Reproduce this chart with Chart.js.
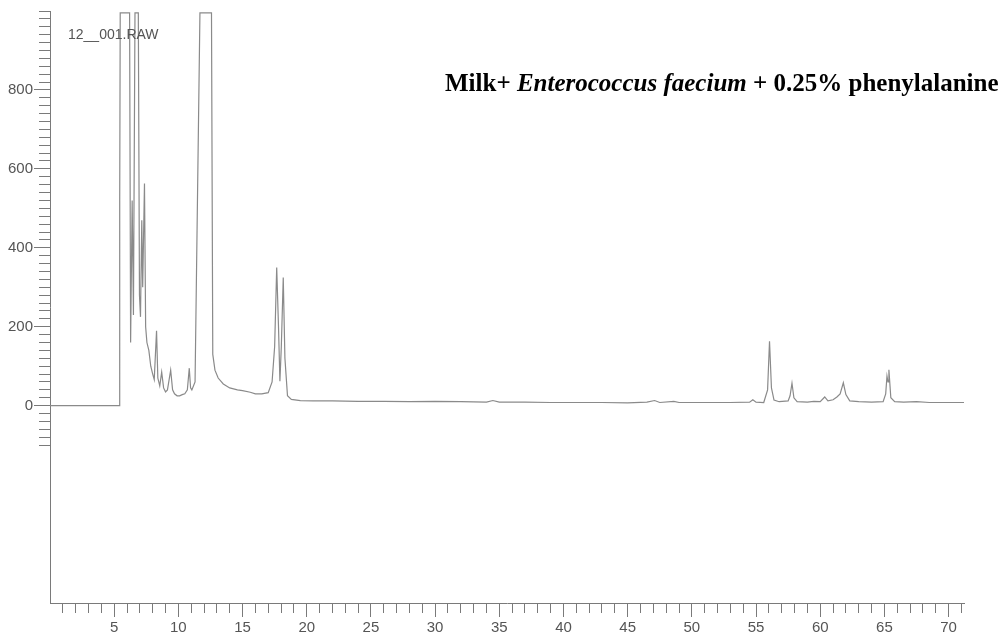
<!DOCTYPE html>
<html>
<head>
<meta charset="utf-8">
<script src="https://cdn.jsdelivr.net/npm/chart.js@4.4.1/dist/chart.umd.min.js"></script>
<style>
  html, body { margin: 0; padding: 0; background: #fff; }
  #wrap { position: relative; width: 1006px; height: 639px; overflow: hidden; }
  #c { position: absolute; left: 0; top: 0; }
  #raw { position: absolute; left: 68px; top: 26px; font: 14px "Liberation Sans", Arial, sans-serif; color: #555; }
  #title { position: absolute; left: 445px; top: 69px; font: bold 25px "Liberation Serif", "Times New Roman", serif; color: #000; white-space: nowrap; }
</style>
</head>
<body>
<div id="wrap">
  <canvas id="c" width="1006" height="639"></canvas>
  <div id="raw">12__001.RAW</div>
  <div id="title">Milk+ <i>Enterococcus faecium</i> + 0.25% phenylalanine</div>
</div>
<script>
// Retention time (min)
const times = [
  0, 5.38, 5.43, 5.47, 5.55, 6.20, 6.28, 6.40, 6.50, 6.62, 6.88, 6.97, 7.05, 7.15, 7.22, 7.36,
  7.45, 7.55, 7.70, 7.85, 8.00, 8.12, 8.30, 8.40, 8.55, 8.70, 8.85, 9.00, 9.15, 9.40, 9.55,
  9.70, 9.90, 10.10, 10.30, 10.50, 10.70, 10.85, 10.95, 11.05, 11.30, 11.68, 12.58, 12.68, 12.85,
  13.10, 13.50, 14.00, 14.60, 15.00, 15.60, 16.00, 16.50, 17.00, 17.30, 17.50, 17.66, 17.80,
  17.91, 18.02, 18.17, 18.30, 18.50, 18.80, 19.50, 20.50, 22, 24, 26, 28, 30, 32, 34, 34.5, 35,
  37, 39, 41, 43, 45, 46.5, 47.1, 47.5, 48.6, 49, 51, 53, 54.5, 54.75, 55.0, 55.6, 55.9, 56.05,
  56.2, 56.4, 56.8, 57.5, 57.65, 57.8, 57.95, 58.2, 59.0, 59.5, 60.0, 60.35, 60.6, 61.0, 61.3,
  61.55, 61.8, 62.0, 62.3, 63.0, 64.0, 64.9, 65.1, 65.2, 65.28, 65.35, 65.5, 65.8, 66.5, 67.5,
  68.5, 70.0, 71.2
];
// Detector signal
const signal = [
  0, 0, 520, 995, 995, 995, 160, 520, 230, 995, 995, 280, 225, 470, 300, 563,
  200, 160, 140, 100, 80, 66, 190, 70, 50, 85, 45, 35, 40, 90, 40,
  30, 25, 25, 28, 30, 40, 95, 45, 40, 60, 995, 995, 130, 90,
  70, 55, 45, 40, 38, 34, 30, 30, 33, 60, 150, 350, 200,
  62, 150, 325, 120, 25, 16, 13, 12, 12, 11, 11, 10, 11, 10, 9, 13, 9,
  9, 8, 8, 8, 7, 9, 13, 8, 11, 8, 8, 8, 9, 15, 9, 8, 40, 163,
  45, 14, 10, 12, 25, 57, 20, 10, 9, 11, 10, 22, 12, 15, 22,
  30, 58, 28, 12, 10, 9, 10, 30, 75, 60, 91, 20, 10, 9, 10,
  8, 8, 8
];
// Tick labels
const xTickLabels = [5, 10, 15, 20, 25, 30, 35, 40, 45, 50, 55, 60, 65, 70];
const yTickLabels = [0, 200, 400, 600, 800];

const points = times.map((t, i) => ({ x: t, y: signal[i] }));

const axisColor = '#7a7a7a';
const labelFont = { family: '"Liberation Sans", Arial, sans-serif', size: 15 };

new Chart(document.getElementById('c'), {
  type: 'line',
  data: {
    datasets: [{
      data: points,
      borderColor: '#8a8a8a',
      borderWidth: 1.2,
      pointRadius: 0,
      tension: 0,
      fill: false
    }]
  },
  options: {
    responsive: false,
    animation: false,
    events: [],
    layout: { padding: { top: 11, right: 42, left: 0, bottom: 0 } },
    plugins: { legend: { display: false }, tooltip: { enabled: false }, title: { display: false } },
    scales: {
      x: {
        type: 'linear',
        min: 0,
        max: 71.2,
        afterBuildTicks: (s) => {
          const arr = [];
          for (let v = 1; v <= 71; v++) arr.push({ value: v });
          s.ticks = arr;
        },
        afterFit: (s) => { s.height = 36; },
        border: { display: true, color: axisColor, width: 1 },
        grid: {
          drawOnChartArea: false,
          drawTicks: true,
          tickLength: 14,
          tickColor: axisColor,
          tickWidth: 1,
          tickBorderDash: (ctx) => (ctx.tick && xTickLabels.includes(ctx.tick.value)) ? [] : [9, 100]
        },
        ticks: {
          autoSkip: false,
          maxRotation: 0,
          minRotation: 0,
          padding: 2,
          color: '#555',
          font: labelFont,
          callback: (v) => xTickLabels.includes(v) ? String(v) : ''
        }
      },
      y: {
        type: 'linear',
        min: -500,
        max: 1000,
        afterBuildTicks: (s) => {
          const arr = [];
          for (let v = -100; v <= 1000; v += 20) arr.push({ value: v });
          s.ticks = arr;
        },
        afterFit: (s) => { s.width = 50; },
        border: { display: true, color: axisColor, width: 1 },
        grid: {
          drawOnChartArea: false,
          drawTicks: true,
          tickLength: 16,
          tickColor: axisColor,
          tickWidth: 1,
          tickBorderDash: (ctx) => (ctx.tick && yTickLabels.includes(ctx.tick.value)) ? [] : [0, 5, 11, 100]
        },
        ticks: {
          autoSkip: false,
          padding: 1,
          color: '#555',
          font: labelFont,
          callback: (v) => yTickLabels.includes(v) ? String(v) : ''
        }
      }
    }
  }
});
</script>
</body>
</html>
